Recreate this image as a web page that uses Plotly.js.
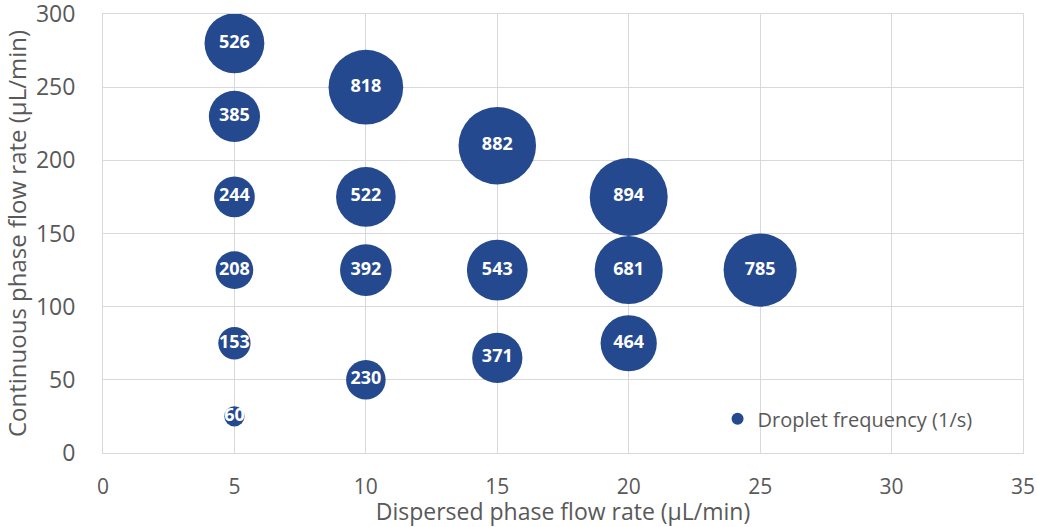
<!DOCTYPE html>
<html><head><meta charset="utf-8">
<script src="https://cdn.plot.ly/plotly-3.0.1.min.js"></script>
<style>html,body{margin:0;padding:0;background:#fff;}#chart{width:1037px;height:527px;}</style>
</head><body><div id="chart"></div>
<script>
const dispersedFlow = [5, 5, 5, 5, 5, 5, 10, 10, 10, 10, 15, 15, 15, 20, 20, 20, 25];
const continuousFlow = [280, 230, 175, 125, 75, 25, 250, 175, 125, 50, 210, 125, 65, 175, 125, 75, 125];
const dropletFrequency = [526, 385, 244, 208, 153, 60, 818, 522, 392, 230, 882, 543, 371, 894, 681, 464, 785];
const seriesName = 'Droplet frequency (1/s)';
const xTitle = 'Dispersed phase flow rate (µL/min)';
const yTitle = 'Continuous phase flow rate (µL/min)';

const maxDiam = 78;
const sizeref = 2 * Math.max(...dropletFrequency) / (maxDiam * maxDiam);
const font = 'Open Sans, Noto Sans, sans-serif';

const trace = {
  type: 'scatter', mode: 'markers+text', name: seriesName,
  x: dispersedFlow, y: continuousFlow,
  text: dropletFrequency.map(String),
  textposition: 'middle center',
  textfont: {color: '#ffffff', size: 18, family: font, weight: 'bold'},
  marker: {size: dropletFrequency, sizemode: 'area', sizeref: sizeref, color: '#24498F', opacity: 1, line: {width: 0}},
  hoverinfo: 'x+y+text', cliponaxis: false
};

const layout = {
  width: 1037, height: 527,
  margin: {l: 103, r: 14, t: 14, b: 74},
  paper_bgcolor: '#ffffff', plot_bgcolor: '#ffffff',
  font: {family: font, color: '#595959', size: 20},
  showlegend: true,
  legend: {x: 0.668, y: 0.078, xanchor: 'left', yanchor: 'middle', bgcolor: 'rgba(0,0,0,0)', font: {size: 20, color: '#595959'}, itemsizing: 'constant'},
  xaxis: {
    range: [0, 35], dtick: 5, tick0: 0, showgrid: true, gridcolor: '#d9d9d9', gridwidth: 1,
    zeroline: false, showline: true, mirror: true, linecolor: '#d9d9d9', linewidth: 1,
    ticks: '', ticklabelstandoff: 15, ticklabeloverflow: 'allow', tickfont: {size: 21, color: '#595959'},
    title: {text: xTitle, font: {size: 23, color: '#595959'}, standoff: 0}
  },
  yaxis: {
    range: [0, 300], dtick: 50, tick0: 0, showgrid: true, gridcolor: '#d9d9d9', gridwidth: 1,
    zeroline: false, showline: true, mirror: true, linecolor: '#d9d9d9', linewidth: 1,
    ticks: '', ticklabelstandoff: 22, ticklabeloverflow: 'allow', tickfont: {size: 23, color: '#595959'},
    title: {text: yTitle, font: {size: 24, color: '#595959'}, standoff: 4}
  }
};

Plotly.newPlot('chart', [trace], layout, {displayModeBar: false, staticPlot: true});
</script></body></html>
